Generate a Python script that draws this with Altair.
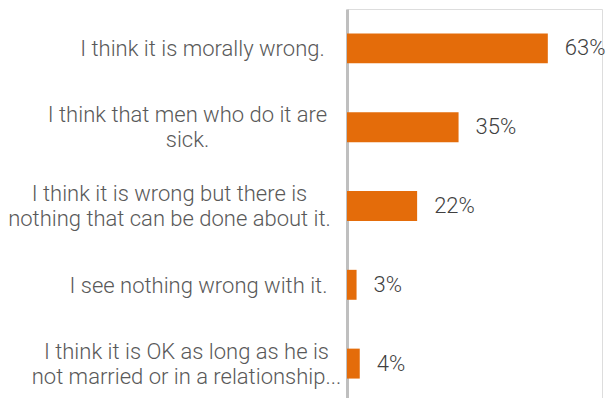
import altair as alt
import pandas as pd

categories = [
    "I think it is morally wrong.",
    "I think that men who do it are|sick.",
    "I think it is wrong but there is|nothing that can be done about it.",
    "I see nothing wrong with it.",
    "I think it is OK as long as he is|not married or in a relationship...",
]
values = [63, 35, 22, 3, 4]
value_labels = ["63%", "35%", "22%", "3%", "4%"]

df = pd.DataFrame({"cat": categories, "val": values, "lab": value_labels})

ORANGE = "#E46C0A"

label_padding = {
    "condition": [
        {"test": "indexof(datum.value, 'morally') >= 0", "value": 145},
        {"test": "indexof(datum.value, 'sick') >= 0", "value": 160},
        {"test": "indexof(datum.value, 'done about') >= 0", "value": 178},
        {"test": "indexof(datum.value, 'see nothing') >= 0", "value": 149},
    ],
    "value": 161,
}
label_offset = {
    "condition": {"test": "indexof(datum.value, '|') >= 0", "value": -12},
    "value": 1,
}

y_enc = alt.Y(
    "cat:N",
    sort=None,
    scale=alt.Scale(paddingInner=0.62, paddingOuter=0.31),
    axis=alt.Axis(
        title=None,
        labelExpr="split(datum.label, '|')",
        labelAlign="center",
        labelBaseline="middle",
        labelPadding=label_padding,
        labelOffset=label_offset,
        labelFont="Roboto",
        labelFontSize=22,
        labelFontWeight=300,
        labelColor="#595959",
        labelLineHeight=25,
        labelLimit=400,
        ticks=False,
        domain=True,
        domainColor="#BFBFBF",
        domainWidth=3,
        grid=False,
    ),
)

x_enc = alt.X("val:Q", scale=alt.Scale(domain=[0, 80]), axis=None)

bars = alt.Chart(df).mark_bar(color=ORANGE).encode(x=x_enc, y=y_enc)
texts = alt.Chart(df).mark_text(
    align="left", baseline="middle", dx=17, font="Roboto", fontSize=22,
    fontWeight=300, color="#404040"
).encode(x=x_enc, y=alt.Y("cat:N", sort=None), text="lab:N")

chart = (
    alt.layer(bars, texts)
    .properties(
        width=255,
        height=394,
        padding={"left": 347, "top": 9, "right": 10, "bottom": 0},
        autosize=alt.AutoSizeParams(type="none"),
    )
    .configure_view(stroke=None)
    .configure(background="white")
)

chart.save("out.html", embed_options={"renderer": "svg", "actions": False})
